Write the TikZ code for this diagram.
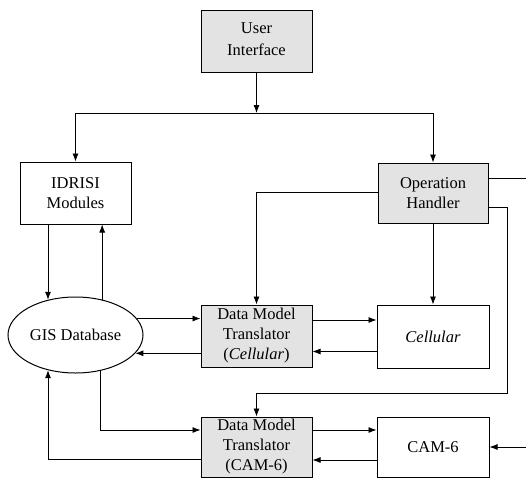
\documentclass[tikz,border=0pt]{standalone}
\usepackage{fontspec}
\setmainfont{Liberation Serif}
\usetikzlibrary{shapes.geometric,arrows.meta}
\begin{document}
\begin{tikzpicture}[x=1pt,y=-1pt,
  every node/.style={font=\fontsize{16.5}{20}\selectfont, align=center, inner sep=0pt},
  plainbox/.style={draw, line width=1pt, minimum width=111pt, minimum height=62pt},
  graybox/.style={plainbox, fill=gray!22},
  arr/.style={line width=0.8pt, -{Latex[length=8pt,width=6pt]}},
  ln/.style={line width=0.8pt}]
\useasboundingbox (0,0) rectangle (526,479);
\node[graybox] (UI) at (256.5,41) {\raisebox{4pt}{\shortstack{User\\[7pt]Interface}}};
\node[plainbox] (ID) at (75.5,193) {IDRISI\\Modules};
\node[graybox, minimum width=110pt, minimum height=60pt] (OH) at (433,193) {Operation\\Handler};
\node[draw, ellipse, line width=1pt, minimum width=135pt, minimum height=76pt] (GIS) at (75.5,335) {GIS Database};
\node[graybox] (D1) at (256.5,336) {Data Model\\Translator\\(\textit{Cellular})};
\node[plainbox, minimum width=112pt, minimum height=63pt] (CE) at (433,336.5) {\textit{Cellular}};
\node[graybox, minimum height=60pt] (D2) at (256.5,447) {Data Model\\Translator\\(CAM-6)};
\node[plainbox, minimum width=112pt, minimum height=60pt] (CA) at (433,447) {CAM-6};
\coordinate (jn) at (256.5,113);
\coordinate (e1) at (526,178);
\coordinate (c1) at (507,393);
\coordinate (e2) at (526,447);
% user interface distribution
\draw[arr] (UI.south) -- (jn);
\draw[arr] (jn) -| (ID.north);
\draw[arr] (jn) -| (OH.north);
% IDRISI <-> GIS
\draw[arr] (ID.south -| GIS.128) -- (GIS.128);
\draw[arr] (GIS.53) -- (GIS.53 |- ID.south);
% GIS <-> DMT cellular
\draw[arr] (GIS.15) -- (GIS.15 -| D1.west);
\draw[arr] (GIS.-17 -| D1.west) -- (GIS.-17);
% DMT cellular <-> Cellular
\draw[arr] ([yshift=16pt]D1.east) -- ([yshift=16pt]D1.east -| CE.west);
\draw[arr] ([yshift=-15pt]CE.west) -- ([yshift=-15pt]CE.west -| D1.east);
% Operation handler
\draw[arr] ([yshift=1pt]OH.west) -| (D1.north);
\draw[arr] (OH.south) -- (CE.north);
\draw[ln] (OH.east |- e1) -- (e1);
\draw[arr] ([yshift=-14pt]OH.east) -| (c1) -| (D2.north);
% GIS <-> DMT CAM
\draw[arr] (GIS.-55) |- ([yshift=17pt]D2.west);
\draw[arr] ([yshift=-12pt]D2.west) -| (GIS.-128);
% DMT CAM <-> CAM-6
\draw[arr] ([yshift=17pt]D2.east) -- ([yshift=17pt]D2.east -| CA.west);
\draw[arr] ([yshift=-13pt]CA.west) -- ([yshift=-13pt]CA.west -| D2.east);
\draw[arr] (e2) -- (CA.east);
\end{tikzpicture}
\end{document}
